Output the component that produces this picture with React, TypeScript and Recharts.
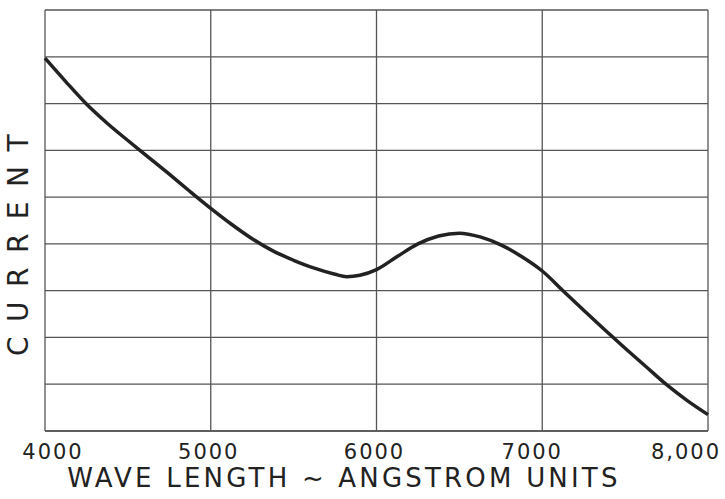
import { CartesianGrid, Line, LineChart, XAxis, YAxis } from "recharts"

// wavelength in angstrom units
const wavelengths = [
  4000, 4125, 4250, 4375, 4500, 4625, 4750, 4875, 5000, 5125, 5250, 5375, 5500, 5625, 5750, 5820, 5900,
  6000, 6125, 6250, 6375, 6500, 6625, 6750, 6875, 7000, 7125, 7250, 7375, 7500, 7625, 7750, 7875, 8000,
]
// current, in grid divisions
const current = [
  7.97, 7.47, 6.99, 6.58, 6.21, 5.85, 5.49, 5.12, 4.76, 4.42, 4.11, 3.85, 3.65, 3.48, 3.35, 3.3, 3.33,
  3.45, 3.73, 4.0, 4.17, 4.23, 4.15, 3.98, 3.73, 3.42, 3.0, 2.58, 2.17, 1.77, 1.38, 0.99, 0.65, 0.35,
]

const xTicks = [4000, 5000, 6000, 7000, 8000]
const xTickLabels = ["4000", "5000", "6000", "7000", "8,000"]
const yTicks = [0, 1, 2, 3, 4, 5, 6, 7, 8, 9]

const data = wavelengths.map((w, i) => ({ w, current: current[i] }))

const ink = "#222"
const font = "'DejaVu Sans', sans-serif"

function WaveTick({ x, y, payload, index }: any) {
  // hand-lettered labels sit a little off their lines at the ends
  const dx = index === 0 ? 8 : index === xTicks.length - 1 ? -22 : index === 3 ? -10 : -2
  return (
    <text x={x + dx} y={y + 20} textAnchor="middle" fill={ink} fontFamily={font} fontSize={21} letterSpacing={2}>
      {xTickLabels[xTicks.indexOf(payload.value)]}
    </text>
  )
}

export default function App() {
  return (
    <div style={{ position: "absolute", left: 0, top: 0, background: "#fff" }}>
      <LineChart width={725} height={499} data={data} margin={{ top: 10, right: 17, left: 0, bottom: 0 }}>
        <CartesianGrid stroke="#555" strokeWidth={1.3} horizontal vertical />
        <XAxis
          dataKey="w"
          type="number"
          domain={[4000, 8000]}
          ticks={xTicks}
          height={68}
          axisLine={{ stroke: "#555", strokeWidth: 1.3 }}
          tickLine={false}
          tick={<WaveTick />}
          label={{
            content: () => (
              <text x={344} y={487} textAnchor="middle" fill={ink} fontFamily={font} fontSize={26} letterSpacing={3.2}>
                WAVE LENGTH ~ ANGSTROM UNITS
              </text>
            ),
          }}
        />
        <YAxis
          type="number"
          domain={[0, 9]}
          ticks={yTicks}
          width={45}
          axisLine={false}
          tickLine={false}
          tick={() => <g />}
          label={{
            content: () => (
              <text
                x={28}
                y={238}
                textAnchor="middle"
                fill={ink}
                fontFamily={font}
                fontSize={28}
                letterSpacing={14.5}
                transform="rotate(-90 28 238)"
              >
                CURRENT
              </text>
            ),
          }}
        />
        <Line
          type="monotone"
          dataKey="current"
          stroke={ink}
          strokeWidth={3.5}
          dot={false}
          isAnimationActive={false}
        />
      </LineChart>
    </div>
  )
}
